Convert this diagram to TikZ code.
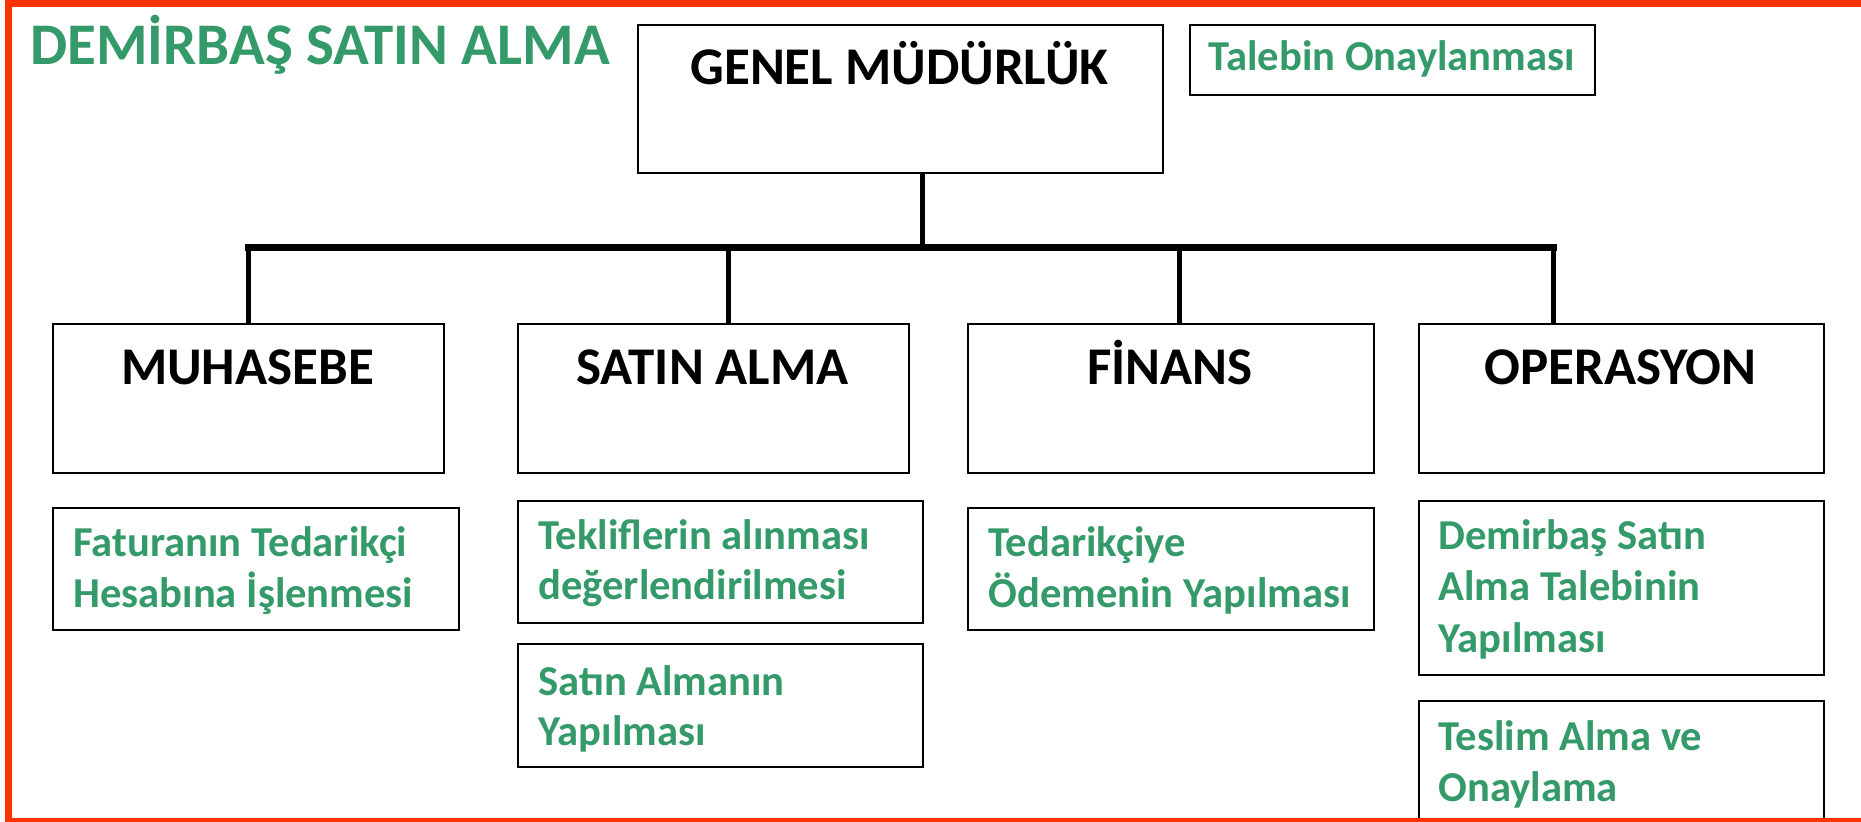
\documentclass[tikz,border=0pt]{standalone}
\usepackage{fontspec}
\setmainfont{Carlito}
\definecolor{tgreen}{RGB}{52,154,105}
\definecolor{tred}{RGB}{255,51,0}
\tikzset{
  box/.style={draw=black, line width=1pt, fill=white, anchor=north west, inner sep=0pt},
  htext/.style={font=\fontsize{26.5}{31}\selectfont\bfseries, text=black, anchor=base, inner sep=0pt},
  gtext/.style={font=\fontsize{21.3}{25}\selectfont\bfseries, text=tgreen, anchor=base west, inner sep=0pt},
  conn/.style={draw=black, line width=2.5pt},
  hconn/.style={draw=black, line width=3.5pt, line cap=rect}
}
\begin{document}
\begin{tikzpicture}[x=0.5pt,y=-0.5pt]
\useasboundingbox (0,0) rectangle (1861,822);
\clip (0,0) rectangle (1861,822);
\fill[white] (0,0) rectangle (1861,822);
% frame
\draw[tred, line width=3.5pt] (1900,3.5) -- (8.5,3.5) -- (8.5,821) -- (1900,821);
% title
\node[font=\fontsize{29.5}{34}\selectfont\bfseries, text=tgreen, anchor=base west, inner sep=0pt] (title) at (30,65) {DEMİRBAŞ SATIN ALMA};
% header boxes
\node[box, minimum width=262.5pt, minimum height=74pt] (gm) at (637,24) {};
\node[htext] (gmT) at (899.5,85) {GENEL MÜDÜRLÜK};
\node[box, minimum width=202.5pt, minimum height=35pt] (tal) at (1189,24) {};
\node[gtext, anchor=base] (talT) at (1391.5,71) {Talebin Onaylanması};
\node[box, minimum width=195.5pt, minimum height=74.5pt] (muh) at (52,323) {};
\node[htext] (muhT) at (247.5,385) {MUHASEBE};
\node[box, minimum width=195.5pt, minimum height=74.5pt] (sat) at (517,323) {};
\node[htext] (satT) at (712.5,385) {SATIN ALMA};
\node[box, minimum width=203pt, minimum height=74.5pt] (fin) at (967,323) {};
\node[htext] (finT) at (1170,385) {FİNANS};
\node[box, minimum width=202.5pt, minimum height=74.5pt] (ops) at (1418,323) {};
\node[htext] (opsT) at (1620.5,385) {OPERASYON};
% connectors
\coordinate (jm) at (922,248);
\coordinate (j1) at (248,248);
\coordinate (j2) at (728,248);
\coordinate (j3) at (1179,248);
\coordinate (j4) at (1553,248);
\draw[conn] (gm.south -| jm) -- (jm);
\draw[conn] (j1) -- (j1 |- muh.north);
\draw[conn] (j2) -- (j2 |- sat.north);
\draw[conn] (j3) -- (j3 |- fin.north);
\draw[conn] (j4) -- (j4 |- ops.north);
\draw[hconn] (j1) -- (j4);
% task boxes
\node[box, minimum width=203pt, minimum height=61pt] (fat) at (52,507) {};
\node[gtext] (fat1) at (73,557) {Faturanın Tedarikçi};
\node[gtext] (fat2) at (73,607) {Hesabına İşlenmesi};
\node[box, minimum width=202.5pt, minimum height=61pt] (tek) at (517,500) {};
\node[gtext] (tek1) at (538,550) {Tekliflerin alınması};
\node[gtext] (tek2) at (538,600) {değerlendirilmesi};
\node[box, minimum width=202.5pt, minimum height=61.5pt] (sam) at (517,643) {};
\node[gtext] (sam1) at (538,695) {Satın Almanın};
\node[gtext] (sam2) at (538,745) {Yapılması};
\node[box, minimum width=203pt, minimum height=61pt] (ted) at (967,507) {};
\node[gtext] (ted1) at (988,557) {Tedarikçiye};
\node[gtext] (ted2) at (988,607) {Ödemenin Yapılması};
\node[box, minimum width=202.5pt, minimum height=87pt] (dem) at (1418,500) {};
\node[gtext] (dem1) at (1438,550) {Demirbaş Satın};
\node[gtext] (dem2) at (1438,601) {Alma Talebinin};
\node[gtext] (dem3) at (1438,652) {Yapılması};
\node[box, minimum width=202.5pt, minimum height=70pt] (tes) at (1418,700) {};
\node[gtext] (tes1) at (1438,750) {Teslim Alma ve};
\node[gtext] (tes2) at (1438,801) {Onaylama};
% redraw bottom frame over boxes
\draw[tred, line width=3.5pt] (8.5,821) -- (1900,821);
\end{tikzpicture}
\end{document}
